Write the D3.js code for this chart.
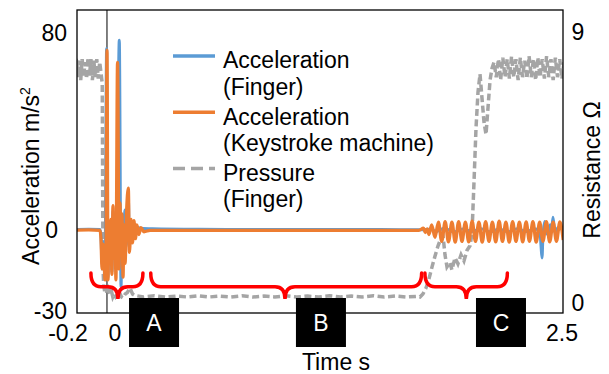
<!DOCTYPE html>
<html>
<head>
<meta charset="utf-8">
<script src="https://cdn.jsdelivr.net/npm/d3@7"></script>
<style>
  body { margin: 0; background: #fff; }
  svg { display: block; font-family: "Liberation Sans", Arial, sans-serif; }
</style>
</head>
<body>
<div id="chart"></div>
<script>
// Chart size and plot frame
const width = 609;
const height = 374;
const frame = { left: 77, top: 10, right: 563, bottom: 313 };

// Acceleration of the finger, [time s, m/s^2]
const fingerAccel = [
  [-0.2, 0.3], [-0.1, 0.4], [-0.038, 0.3], [-0.033, -2], [-0.027, -12], [-0.022, -4],
  [-0.016, -9], [-0.011, -17], [-0.002, 66], [0.005, -17], [0.011, 1], [0.016, -11],
  [0.022, 3], [0.027, -15], [0.033, 7], [0.038, -9], [0.044, 4], [0.052, -14],
  [0.058, 20], [0.0675, 69], [0.077, -20.5], [0.083, 4], [0.088, -10], [0.094, 3],
  [0.099, 7.4], [0.104, -6], [0.110, 5], [0.117, 12], [0.123, -6], [0.132, 3],
  [0.140, -3], [0.148, 2.5], [0.156, -2], [0.170, 1], [0.186, 0.8], [0.25, 0.6],
  [0.5, 0.4], [1.0, 0.3], [1.5, 0.3], [1.72, 0.2], [1.78, 0.5], [1.80, -0.5],
  [1.85, 0.8], [1.90, -0.6], [1.95, 0.5], [2.00, -0.4], [2.05, 0.6], [2.10, -0.5],
  [2.15, 0.4], [2.20, -0.5], [2.25, 0.6], [2.30, -0.4], [2.35, 0.5], [2.374, -1],
  [2.38, -6], [2.385, -10], [2.39, -2], [2.40, 3.2], [2.41, -1], [2.418, -1.5],
  [2.429, 2], [2.437, -0.5], [2.445, 4.8], [2.456, -1], [2.473, 1], [2.5, 0]
];

// Acceleration of the keystroke machine, [time s, m/s^2]
const machineAccel = [
  [-0.2, 0], [-0.1, 0.2], [-0.038, 0], [-0.033, -3], [-0.027, -14], [-0.022, -5],
  [-0.016, -10], [-0.011, -18], [-0.005, -6], [0, 65.4], [0.0055, -18], [0.011, 2],
  [0.016, -12], [0.022, 4], [0.027, -16], [0.033, 9], [0.038, -10], [0.044, 5],
  [0.049, -18], [0.058, 61], [0.066, -14], [0.071, 10], [0.077, -9], [0.082, 6],
  [0.088, -17], [0.093, 2], [0.099, -12], [0.107, 6], [0.117, 15.3], [0.123, -8],
  [0.132, 4], [0.140, -4.5], [0.148, 3.5], [0.156, -3], [0.164, 2], [0.175, -1.5],
  [0.186, 1], [0.203, -0.5], [0.236, 0], [0.6, 0], [1.2, 0], [1.71, 0],
  [1.735, 0.8], [1.745, -0.8], [1.755, 0.5], [1.765, -1.5],
  [1.780, 2.0], [1.798, -2.5], [1.817, 3.0], [1.835, -4.0], [1.854, 3.2], [1.872, -4.2],
  [1.891, 3.0], [1.909, -4.3], [1.928, 3.2], [1.946, -4.0], [1.965, 3.0], [1.983, -4.2],
  [2.002, 3.3], [2.020, -4.0], [2.039, 3.0], [2.057, -4.3], [2.076, 3.2], [2.094, -4.0],
  [2.113, 3.0], [2.131, -4.2], [2.150, 3.3], [2.168, -4.0], [2.187, 3.0], [2.205, -4.3],
  [2.224, 3.2], [2.242, -4.0], [2.261, 3.0], [2.279, -4.2], [2.298, 3.1], [2.316, -4.0],
  [2.335, 3.2], [2.353, -4.3], [2.372, 3.0], [2.390, -4.0], [2.409, 3.2], [2.427, -4.2],
  [2.446, 3.0], [2.464, -4.0], [2.483, 3.1], [2.501, -3.5]
];

// Pressure of the finger as resistance, [time s, ohm]
const pressure = [
  [-0.200, 7.9], [-0.192, 7.5], [-0.184, 8.1], [-0.176, 7.45], [-0.168, 8.15], [-0.160, 7.5],
  [-0.152, 8.05], [-0.144, 7.4], [-0.136, 8.1], [-0.128, 7.5], [-0.120, 8.0], [-0.112, 7.45],
  [-0.104, 8.15], [-0.096, 7.55], [-0.088, 8.1], [-0.080, 7.4], [-0.072, 8.05], [-0.064, 7.5],
  [-0.056, 8.1], [-0.048, 7.45], [-0.040, 8.0], [-0.032, 7.6], [-0.026, 7.3], [-0.024, 4.5],
  [-0.022, 1.2], [-0.018, 0.6], [-0.012, 0.35], [-0.006, 0.5], [0.000, 0.3], [0.008, 0.45],
  [0.016, 0.3], [0.024, 0.4], [0.032, 0.2], [0.040, 0.3], [0.048, 0.2], [0.056, 0.25],
  [0.064, 0.4], [0.072, 0.3], [0.080, 0.2], [0.088, 0.17], [0.100, 0.3], [0.112, 0.35],
  [0.126, 0.5], [0.140, 0.3], [0.153, 0.25], [0.20, 0.2], [0.26, 0.24], [0.32, 0.2],
  [0.38, 0.23], [0.44, 0.2], [0.50, 0.24], [0.56, 0.2], [0.62, 0.23], [0.68, 0.2],
  [0.74, 0.24], [0.80, 0.2], [0.86, 0.23], [0.92, 0.2], [0.98, 0.24], [1.04, 0.2],
  [1.10, 0.23], [1.16, 0.2], [1.22, 0.24], [1.28, 0.2], [1.34, 0.23], [1.40, 0.2],
  [1.46, 0.24], [1.52, 0.2], [1.58, 0.23], [1.64, 0.2], [1.70, 0.22], [1.716, 0.2],
  [1.732, 0.3], [1.749, 0.5], [1.765, 0.8], [1.782, 1.2], [1.798, 1.55], [1.815, 1.9],
  [1.831, 2.15], [1.842, 2.25], [1.853, 1.6], [1.864, 1.2], [1.880, 1.35], [1.891, 1.1],
  [1.908, 1.5], [1.924, 1.3], [1.941, 1.6], [1.957, 1.4], [1.974, 1.75], [1.990, 1.9],
  [2.001, 2.3], [2.012, 4.0], [2.023, 5.8], [2.034, 7.0], [2.045, 7.6], [2.056, 6.8],
  [2.067, 6.0], [2.078, 5.6], [2.089, 6.5], [2.100, 7.4], [2.111, 7.8],
  [2.122, 8.0], [2.134, 7.5], [2.146, 8.1], [2.158, 7.4], [2.170, 8.15], [2.182, 7.5],
  [2.194, 8.1], [2.206, 7.45], [2.218, 8.2], [2.230, 7.5], [2.242, 8.1], [2.254, 7.4],
  [2.266, 8.15], [2.278, 7.5], [2.290, 8.05], [2.302, 7.45], [2.314, 8.2], [2.326, 7.5],
  [2.338, 8.1], [2.350, 7.4], [2.362, 8.15], [2.374, 7.5], [2.386, 8.1], [2.398, 7.45],
  [2.410, 8.2], [2.422, 7.5], [2.434, 8.1], [2.446, 7.4], [2.458, 8.15], [2.470, 7.5],
  [2.482, 8.1], [2.494, 7.45], [2.506, 8.0]
];

// Axis tick labels
const xTicks = [-0.2, 0, 2.5];
const yLeftTicks = [80, 0, -30];
const yRightTicks = [9, 0];

// Legend
const seriesColors = ["#5b9bd5", "#ed7d31", "#a5a5a5"];
const legendLabels = [
  ["Acceleration", "(Finger)"],
  ["Acceleration", "(Keystroke machine)"],
  ["Pressure", "(Finger)"]
];

// Phase annotations: [start, tip, end] in seconds and box centre
const phaseNames = ["A", "B", "C"];
const phaseSpans = [[-0.088, 0.06, 0.197], [0.24, 0.976, 1.725], [1.743, 1.97, 2.195]];
const phaseBoxes = [0.258, 1.173, 2.16];

const x = d3.scaleLinear().domain([-0.2, 2.5]).range([70.5, 563]);
const yAcc = d3.scaleLinear().domain([-30, 80]).range([313, 10]);
const yRes = d3.scaleLinear().domain([0, 9]).range([303, 32]);

const svg = d3.select("#chart")
  .append("svg")
  .attr("width", width)
  .attr("height", height);

svg.append("defs").append("clipPath")
  .attr("id", "plot-clip")
  .append("rect")
  .attr("x", frame.left)
  .attr("y", frame.top)
  .attr("width", frame.right - frame.left)
  .attr("height", frame.bottom - frame.top);

const plot = svg.append("g").attr("clip-path", "url(#plot-clip)");

// t = 0 marker
plot.append("line")
  .attr("x1", x(0)).attr("x2", x(0))
  .attr("y1", frame.top).attr("y2", frame.bottom)
  .attr("stroke", "#000")
  .attr("stroke-width", 1);

const pressureLine = d3.line()
  .x(d => x(d[0]))
  .y(d => yRes(d[1]));

const accelLine = d3.line()
  .x(d => x(d[0]))
  .y(d => yAcc(d[1]))
  .curve(d3.curveMonotoneX);

plot.append("path")
  .attr("d", pressureLine(pressure))
  .attr("fill", "none")
  .attr("stroke", seriesColors[2])
  .attr("stroke-width", 3.5)
  .attr("stroke-dasharray", "7,3.5");

plot.append("path")
  .attr("d", accelLine(fingerAccel))
  .attr("fill", "none")
  .attr("stroke", seriesColors[0])
  .attr("stroke-width", 3)
  .attr("stroke-linejoin", "round");

plot.append("path")
  .attr("d", accelLine(machineAccel))
  .attr("fill", "none")
  .attr("stroke", seriesColors[1])
  .attr("stroke-width", 3.3)
  .attr("stroke-linejoin", "round");

// frame
svg.append("rect")
  .attr("x", frame.left)
  .attr("y", frame.top)
  .attr("width", frame.right - frame.left)
  .attr("height", frame.bottom - frame.top)
  .attr("fill", "none")
  .attr("stroke", "#000")
  .attr("stroke-width", 1.3);

// red braces under each phase
const braceTop = yAcc(-15.5), braceMid = yAcc(-20.5), braceTip = yAcc(-24.9);
function bracePath(s) {
  const x1 = x(s[0]), xm = x(s[1]), x2 = x(s[2]);
  const r = 10;
  return `M${x1},${braceTop} Q${x1},${braceMid} ${x1 + r},${braceMid} L${xm - r},${braceMid}` +
    ` Q${xm},${braceMid} ${xm},${braceTip} Q${xm},${braceMid} ${xm + r},${braceMid}` +
    ` L${x2 - r},${braceMid} Q${x2},${braceMid} ${x2},${braceTop}`;
}
svg.selectAll(".brace")
  .data(phaseSpans)
  .join("path")
  .attr("class", "brace")
  .attr("d", bracePath)
  .attr("fill", "none")
  .attr("stroke", "#ff0000")
  .attr("stroke-width", 3.5)
  .attr("stroke-linecap", "round");

// black label boxes
const boxes = svg.selectAll(".phase")
  .data(phaseNames)
  .join("g")
  .attr("class", "phase")
  .attr("transform", (d, i) => `translate(${x(phaseBoxes[i])},298)`);
boxes.append("rect")
  .attr("x", -25).attr("y", 0)
  .attr("width", 50).attr("height", 49)
  .attr("fill", "#000");
boxes.append("text")
  .attr("x", 0).attr("y", 33)
  .attr("text-anchor", "middle")
  .attr("fill", "#fff")
  .attr("font-size", 23)
  .text(d => d);

// tick labels
svg.selectAll(".xtick")
  .data(xTicks)
  .join("text")
  .attr("class", "xtick")
  .attr("x", d => x(d) + (d === 0 ? 8 : d < 0 ? -2.5 : -1))
  .attr("y", 341)
  .attr("text-anchor", "middle")
  .attr("font-size", 23)
  .text(d => d);

svg.selectAll(".ytick")
  .data(yLeftTicks)
  .join("text")
  .attr("class", "ytick")
  .attr("x", d => d === 0 ? 58 : 67)
  .attr("y", d => yAcc(d) + (d === 80 ? 31 : d < 0 ? 6 : 8))
  .attr("text-anchor", "end")
  .attr("font-size", 23)
  .text(d => d);

svg.selectAll(".rtick")
  .data(yRightTicks)
  .join("text")
  .attr("class", "rtick")
  .attr("x", 578)
  .attr("y", d => yRes(d) + 8)
  .attr("text-anchor", "middle")
  .attr("font-size", 23)
  .text(d => d);

// axis titles
const leftTitle = svg.append("text")
  .attr("transform", "translate(38.5,176) rotate(-90)")
  .attr("text-anchor", "middle")
  .attr("font-size", 23)
  .text("Acceleration m/s");
leftTitle.append("tspan")
  .attr("font-size", 14)
  .attr("dy", -9)
  .text("2");

svg.append("text")
  .attr("transform", "translate(600,170) rotate(-90)")
  .attr("text-anchor", "middle")
  .attr("font-size", 23)
  .text("Resistance Ω");

svg.append("text")
  .attr("x", 336)
  .attr("y", 370)
  .attr("text-anchor", "middle")
  .attr("font-size", 23)
  .text("Time s");

// legend
const legend = svg.selectAll(".legend")
  .data(legendLabels)
  .join("g")
  .attr("class", "legend")
  .attr("transform", (d, i) => `translate(173,${56 + i * 56.2})`);
legend.append("line")
  .attr("x1", 0).attr("x2", 42)
  .attr("stroke", (d, i) => seriesColors[i])
  .attr("stroke-width", 3.5)
  .attr("stroke-dasharray", (d, i) => i === 2 ? "12,6" : null);
legend.append("text")
  .attr("x", 50)
  .attr("y", 12.3)
  .attr("font-size", 23)
  .text(d => d[0]);
legend.append("text")
  .attr("x", 50)
  .attr("y", 39)
  .attr("font-size", 23)
  .text(d => d[1]);
</script>
</body>
</html>
